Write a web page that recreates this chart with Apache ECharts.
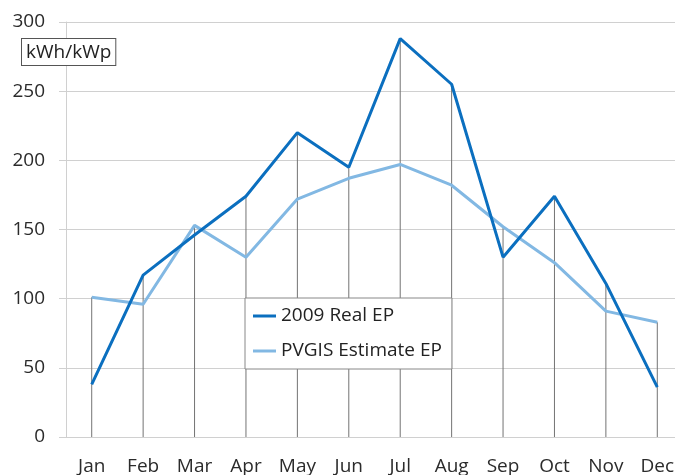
<!DOCTYPE html>
<html>
<head>
<meta charset="utf-8">
<script src="https://cdn.jsdelivr.net/npm/echarts@6/dist/echarts.min.js"></script>
<style>
  html, body { margin: 0; padding: 0; background: #fff; }
  #chart { width: 675px; height: 475px; }
</style>
</head>
<body>
<div id="chart"></div>
<script>
// 数据
const months = ['Jan', 'Feb', 'Mar', 'Apr', 'May', 'Jun', 'Jul', 'Aug', 'Sep', 'Oct', 'Nov', 'Dec'];
const realEP = [38, 117, 146, 174, 220, 195, 288, 255, 130, 174, 111, 36];
const pvgisEP = [101, 96, 153, 130, 172, 187, 197, 182, 152, 126, 91, 83];
const yTicks = [0, 50, 100, 150, 200, 250, 300];

// 垂线（到两条线的较高点）
const dropLines = realEP.map((v, i) => Math.max(v, pvgisEP[i]));

const chart = echarts.init(document.getElementById('chart'));
const font = '"Open Sans", "Noto Sans", sans-serif';

chart.setOption({
    animation: false,
    textStyle: { fontFamily: font },
    grid: { left: 66, top: 22, width: 617, height: 415, outerBoundsMode: 'none', containLabel: false },
    xAxis: {
        type: 'category',
        data: months,
        boundaryGap: true,
        axisLine: { lineStyle: { color: '#d0d0d0', width: 1 } },
        axisTick: { alignWithLabel: true, length: 6, lineStyle: { color: '#d0d0d0' } },
        axisLabel: { color: '#2b2b2b', fontSize: 19, margin: 20, fontFamily: font },
        splitLine: { show: false }
    },
    yAxis: {
        type: 'value',
        min: yTicks[0],
        max: yTicks[yTicks.length - 1],
        interval: 50,
        axisLine: { show: true, lineStyle: { color: '#d0d0d0', width: 1 } },
        axisTick: { show: true, length: 7, lineStyle: { color: '#d0d0d0' } },
        axisLabel: { color: '#2b2b2b', fontSize: 19, margin: 21, fontFamily: font },
        splitLine: { lineStyle: { color: '#d0d0d0', width: 1 } }
    },
    legend: {
        orient: 'vertical',
        left: 245,
        top: 298,
        padding: [7, 10, 7, 8],
        itemGap: 13,
        itemWidth: 23,
        itemHeight: 3,
        backgroundColor: '#fff',
        borderColor: '#888',
        borderWidth: 1,
        borderRadius: 0,
        icon: 'rect',
        textStyle: { color: '#222', fontSize: 19, lineHeight: 22, fontFamily: font },
        data: ['2009 Real EP', 'PVGIS Estimate EP']
    },
    graphic: [{
        type: 'text',
        left: 21,
        top: 38,
        style: {
            text: 'kWh/kWp',
            fontSize: 19,
            fontFamily: font,
            fill: '#222',
            backgroundColor: '#fff',
            borderColor: '#555',
            borderWidth: 1,
            padding: [4, 4, 3, 4]
        },
        z: 100
    }],
    series: [
        {
            name: 'drop',
            type: 'bar',
            data: dropLines,
            barWidth: 1,
            itemStyle: { color: '#737373' },
            silent: true,
            z: 1
        },
        {
            name: 'PVGIS Estimate EP',
            type: 'line',
            data: pvgisEP,
            symbol: 'none',
            lineStyle: { color: '#82b8e3', width: 3 },
            itemStyle: { color: '#82b8e3' },
            z: 3
        },
        {
            name: '2009 Real EP',
            type: 'line',
            data: realEP,
            symbol: 'none',
            lineStyle: { color: '#0b6fbf', width: 3 },
            itemStyle: { color: '#0b6fbf' },
            z: 4
        }
    ]
});
</script>
</body>
</html>
